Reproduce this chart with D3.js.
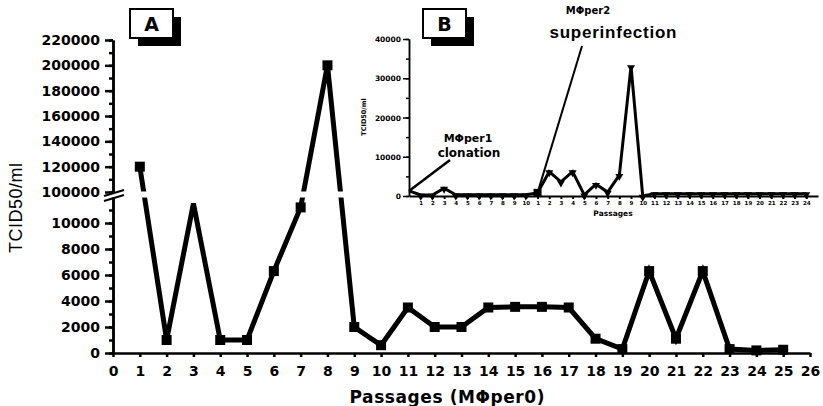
<!DOCTYPE html>
<html>
<head>
<meta charset="utf-8">
<script src="https://cdn.jsdelivr.net/npm/d3@7"></script>
<style>
  body { margin: 0; background: #fff; }
  svg { display: block; }
  text { font-family: "DejaVu Sans", sans-serif; font-weight: bold; fill: #000; }
</style>
</head>
<body>
<svg id="chart" width="823" height="406"></svg>
<script>
// Panel A: titer per passage (MΦper0)
var passagesA = [1, 2, 3, 4, 5, 6, 7, 8, 9, 10, 11, 12, 13, 14, 15, 16, 17, 18, 19, 20, 21, 22, 23, 24, 25];
var titerA = [120000, 1000, 11500, 1000, 1000, 6300, 11200, 200000, 2000, 600,
              3500, 2000, 2000, 3500, 3550, 3550, 3500, 1100, 300, 6300,
              1100, 6300, 300, 200, 250];
var lowTicksA = [0, 2000, 4000, 6000, 8000, 10000];
var highTicksA = [100000, 120000, 140000, 160000, 180000, 200000, 220000];
var xTicksA = d3.range(0, 27);

// Panel B (inset): passage index, its label and titer
var labelsB = ["", "1", "2", "3", "4", "5", "6", "7", "8", "9", "10",
               "1", "2", "3", "4", "5", "6", "7", "8", "9", "10", "11", "12", "13", "14",
               "15", "16", "17", "18", "19", "20", "21", "22", "23", "24"];
var titerB = [1300, 250, 250, 2000, 300, 300, 300, 300, 300, 300, 300,
              800, 6200, 3600, 6200, 300, 3000, 1000, 5300, 33000, 0,
              600, 600, 600, 600, 600, 600, 600, 600, 600, 600, 600, 600, 600, 600];
var yTicksB = [0, 10000, 20000, 30000, 40000];

var svg = d3.select("#chart");
var fmt = d3.format("d");

// ---------- Panel A ----------
var x = d3.scaleLinear().domain([0, 26]).range([113, 810]);
var yLow = d3.scaleLinear().domain([0, 12000]).range([353, 197]);
var yHigh = d3.scaleLinear().domain([100000, 220000]).range([192, 40]);
function y(v) { return v <= 12000 ? yLow(v) : yHigh(v); }

var dataA = passagesA.map(function(p, i) { return { p: p, v: titerA[i] }; });

// main line
svg.append("path")
  .datum(dataA)
  .attr("d", d3.line().x(function(d) { return x(d.p); }).y(function(d) { return y(d.v); }))
  .style("fill", "none")
  .style("stroke", "#000")
  .style("stroke-width", 5)
  .style("stroke-linejoin", "miter");

// squares (none drawn at the sharp peak at 3)
svg.selectAll(".sqA")
  .data(dataA.filter(function(d) { return d.p !== 3; }))
  .enter()
  .append("rect")
  .attr("class", "sqA")
  .attr("x", function(d) { return x(d.p) - 5; })
  .attr("y", function(d) { return y(d.v) - 5; })
  .attr("width", 10)
  .attr("height", 10)
  .style("fill", "#000");

// gap in the lines at the axis break
svg.append("rect")
  .attr("x", x(0) + 3)
  .attr("y", yHigh(100000) - 0.5)
  .attr("width", x(9.3) - x(0))
  .attr("height", yLow(12000) - yHigh(100000) + 1)
  .style("fill", "#fff");

function styleAxis(g, w) {
  g.select(".domain").style("stroke", "#000").style("stroke-width", w);
  g.selectAll(".tick line").style("stroke", "#000").style("stroke-width", w);
}

// y axis, lower segment
var gLow = svg.append("g").attr("transform", "translate(" + x(0) + ",0)");
gLow.call(d3.axisLeft(yLow).tickValues(d3.range(0, 12000, 1000)).tickSize(4).tickSizeOuter(0).tickFormat(""));
styleAxis(gLow, 2.5);
var gLowL = svg.append("g").attr("transform", "translate(" + x(0) + ",0)");
gLowL.call(d3.axisLeft(yLow).tickValues(lowTicksA).tickSize(8).tickPadding(5).tickSizeOuter(0).tickFormat(fmt));
styleAxis(gLowL, 2.5);
gLowL.selectAll("text").style("font-size", "14px");

// y axis, upper segment
var gHigh = svg.append("g").attr("transform", "translate(" + x(0) + ",0)");
gHigh.call(d3.axisLeft(yHigh).tickValues(d3.range(100000, 230000, 10000)).tickSize(4).tickSizeOuter(0).tickFormat(""));
styleAxis(gHigh, 2.5);
var gHighL = svg.append("g").attr("transform", "translate(" + x(0) + ",0)");
gHighL.call(d3.axisLeft(yHigh).tickValues(highTicksA).tickSize(8).tickPadding(5).tickSizeOuter(0).tickFormat(fmt));
styleAxis(gHighL, 2.5);
gHighL.selectAll("text").style("font-size", "14px");

// break marks
var yb = (yLow(12000) + yHigh(100000)) / 2;
[-2.5, 2.5].forEach(function(off) {
  svg.append("line")
    .attr("x1", x(0) - 9).attr("y1", yb + off + 4)
    .attr("x2", x(0) + 11).attr("y2", yb + off - 2)
    .style("stroke", "#000").style("stroke-width", 2);
});

// x axis
var gx = svg.append("g").attr("transform", "translate(0," + yLow(0) + ")");
gx.call(d3.axisBottom(x).tickValues(xTicksA).tickSize(4).tickSizeOuter(0).tickFormat(fmt));
styleAxis(gx, 2.5);
gx.selectAll("text").attr("y", 13).style("font-size", "14px");

// axis titles
svg.append("text")
  .attr("x", 447).attr("y", 403)
  .attr("text-anchor", "middle")
  .attr("textLength", 195)
  .style("font-size", "17px")
  .text("Passages (MΦper0)");

svg.append("text")
  .attr("transform", "translate(22,208) rotate(-90)")
  .attr("text-anchor", "middle")
  .attr("textLength", 90)
  .style("font-family", "'Liberation Sans Narrow', 'Liberation Sans', sans-serif")
  .style("font-weight", "normal")
  .style("font-size", "18px")
  .text("TCID50/ml");

// panel letter boxes
function panelBox(bx, by, letter) {
  svg.append("rect").attr("x", bx + 8).attr("y", by + 8).attr("width", 43).attr("height", 29).style("fill", "#000");
  svg.append("rect").attr("x", bx).attr("y", by).attr("width", 43).attr("height", 29)
    .style("fill", "#fff").style("stroke", "#000").style("stroke-width", 2);
  svg.append("text").attr("x", bx + 21.5).attr("y", by + 22)
    .attr("text-anchor", "middle").style("font-size", "19px").text(letter);
}
panelBox(130, 9, "A");

// ---------- Panel B (inset) ----------
var xB = d3.scaleLinear().domain([0, 35]).range([409, 818]);
var yB = d3.scaleLinear().domain([0, 40000]).range([196, 39]);
var dataB = titerB.map(function(v, i) { return { i: i, v: v }; });

var gyB = svg.append("g").attr("transform", "translate(" + xB(0) + ",0)");
gyB.call(d3.axisLeft(yB).tickValues(d3.range(0, 45000, 5000)).tickSize(3).tickSizeOuter(0).tickFormat(""));
styleAxis(gyB, 1.5);
var gyBL = svg.append("g").attr("transform", "translate(" + xB(0) + ",0)");
gyBL.call(d3.axisLeft(yB).tickValues(yTicksB).tickSize(6).tickPadding(2).tickSizeOuter(0).tickFormat(fmt));
styleAxis(gyBL, 1.5);
gyBL.selectAll("text").style("font-size", "7.5px").attr("dy", "0.35em");

var gxB = svg.append("g").attr("transform", "translate(0," + yB(0) + ")");
gxB.call(d3.axisBottom(xB).tickValues(d3.range(1, 35)).tickSize(3).tickSizeOuter(0)
  .tickFormat(function(d) { return labelsB[d]; }));
styleAxis(gxB, 2);
gxB.selectAll("text").attr("y", 5).style("font-size", "5.5px");

svg.append("path")
  .datum(dataB)
  .attr("d", d3.line().x(function(d) { return xB(d.i); }).y(function(d) { return yB(d.v); }))
  .style("fill", "none")
  .style("stroke", "#000")
  .style("stroke-width", 3);

svg.selectAll(".triB")
  .data(dataB.filter(function(d) { return d.i > 0 && d.i !== 11; }))
  .enter()
  .append("path")
  .attr("class", "triB")
  .attr("transform", function(d) { return "translate(" + xB(d.i) + "," + (yB(d.v) + 1) + ") rotate(180)"; })
  .attr("d", d3.symbol().type(d3.symbolTriangle).size(28))
  .style("fill", "#000");

svg.selectAll(".sqB")
  .data(dataB.filter(function(d) { return d.i === 11; }))
  .enter()
  .append("rect")
  .attr("class", "sqB")
  .attr("x", function(d) { return xB(d.i) - 4; })
  .attr("y", function(d) { return yB(d.v) - 4; })
  .attr("width", 8)
  .attr("height", 8)
  .style("fill", "#000");

svg.append("text")
  .attr("x", 613).attr("y", 216)
  .attr("text-anchor", "middle")
  .style("font-size", "7.5px")
  .text("Passages");

svg.append("text")
  .attr("transform", "translate(366,117) rotate(-90)")
  .attr("text-anchor", "middle")
  .style("font-size", "6.5px")
  .text("TCID50/ml");

// annotations
svg.append("line")
  .attr("x1", 450).attr("y1", 160)
  .attr("x2", xB(0)).attr("y2", yB(titerB[0]))
  .style("stroke", "#000").style("stroke-width", 2.5);
svg.append("text").attr("x", 468).attr("y", 142).attr("text-anchor", "middle")
  .style("font-size", "11px").text("MΦper1");
svg.append("text").attr("x", 469).attr("y", 157).attr("text-anchor", "middle")
  .style("font-size", "12px").text("clonation");

svg.append("line")
  .attr("x1", 582).attr("y1", 46)
  .attr("x2", xB(11)).attr("y2", yB(titerB[11]))
  .style("stroke", "#000").style("stroke-width", 2);
svg.append("text").attr("x", 588).attr("y", 14).attr("text-anchor", "middle")
  .style("font-size", "10px").text("MΦper2");
svg.append("text").attr("x", 613).attr("y", 38).attr("text-anchor", "middle")
  .attr("textLength", 127)
  .style("font-family", "'Liberation Sans', sans-serif")
  .style("font-size", "17px").text("superinfection");

panelBox(423, 9, "B");
</script>
</body>
</html>
